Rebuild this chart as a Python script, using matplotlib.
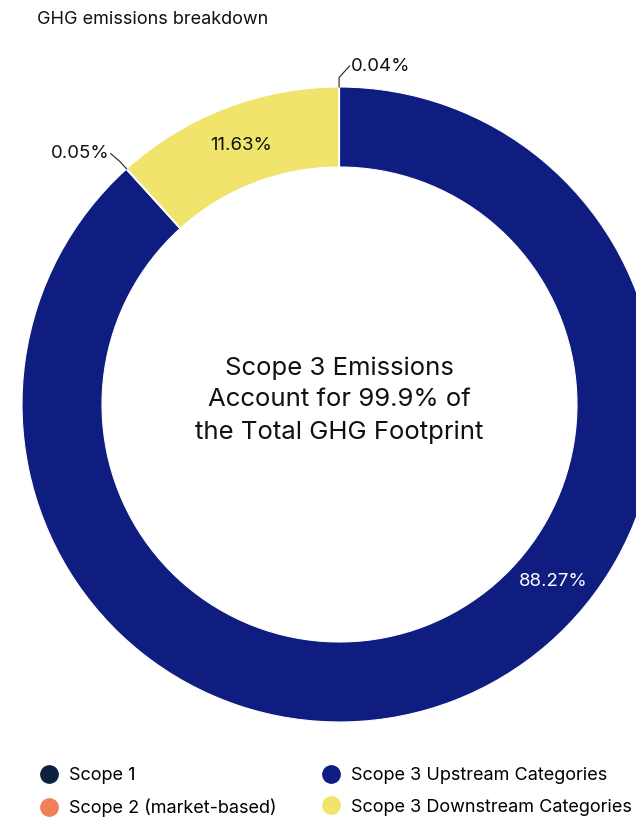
import numpy as np
import matplotlib.pyplot as plt
from matplotlib.lines import Line2D

plt.rcParams['font.family'] = ['Inter', 'DejaVu Sans']

# slices, clockwise from 12 o'clock
labels = ['Scope 3 Upstream Categories', 'Scope 1',
          'Scope 3 Downstream Categories', 'Scope 2 (market-based)']
shares = [88.27, 0.05, 11.63, 0.04]
colors = ['#0f1d80', '#0c2340', '#f0e46c', '#f07f5a']

legend_order = ['Scope 1', 'Scope 2 (market-based)',
                'Scope 3 Upstream Categories', 'Scope 3 Downstream Categories']

W, H = 636, 817
cx, cy, R = 339.5, 412.5, 317.5   # pixel centre (from bottom) and outer radius
ring = 0.252

fig = plt.figure(figsize=(W / 100, H / 100), dpi=100)
ax = fig.add_axes([0, 0, 1, 1])

wedges, _ = ax.pie(shares, colors=colors, startangle=90, counterclock=False,
                   radius=1.0, wedgeprops=dict(width=ring, edgecolor='white', linewidth=0.8))

# pie() resets the limits, so fix the scale afterwards
ax.set_xlim(-cx / R, (W - cx) / R)
ax.set_ylim(-cy / R, (H - cy) / R)
ax.set_aspect('equal')
ax.axis('off')

mid_r = 1 - ring / 2

def mid_angle(w):
    return np.deg2rad((w.theta1 + w.theta2) / 2)

# big slices: labels inside the ring
a_up = np.deg2rad(-39.6)
ax.text(mid_r * np.cos(a_up), mid_r * np.sin(a_up), f'{shares[0]:.2f}%',
        color='white', fontsize=13.4, ha='center', va='center')
a_dn = mid_angle(wedges[2])
ax.text(mid_r * np.cos(a_dn) + 0.006, mid_r * np.sin(a_dn), f'{shares[2]:.2f}%',
        color='#111111', fontsize=13.4, ha='center', va='center')

# tiny slices: leader lines out to the labels
def leader(w, pct, dx, dy, ha):
    a = mid_angle(w)
    x0, y0 = np.cos(a), np.sin(a)
    x1, y1 = 1.03 * x0, 1.03 * y0
    x2, y2 = x1 + dx, y1 + dy
    ax.plot([x0, x1, x2], [y0, y1, y2], color='#222222', lw=0.8)
    ax.text(x2 + (0.005 if ha == 'left' else -0.005), y2, f'{pct:.2f}%',
            fontsize=13.4, ha=ha, va='center', color='#111111')

leader(wedges[3], shares[3], 0.033, 0.036, 'left')
leader(wedges[1], shares[1], -0.03, 0.026, 'right')

ax.text(0, 0.014, 'Scope 3 Emissions\nAccount for 99.9% of\nthe Total GHG Footprint',
        ha='center', va='center', fontsize=18.5, linespacing=1.47, color='#111111')

fig.text(37 / W, 1 - 20 / H, 'GHG emissions breakdown', fontsize=13,
         ha='left', va='center', color='#111111')

handles = [Line2D([], [], marker='o', linestyle='none', markersize=13.5,
                  markerfacecolor=colors[labels.index(n)], markeredgecolor='none')
           for n in legend_order]
fig.legend(handles, legend_order, ncol=2, loc='upper left',
           bbox_to_anchor=(38 / W, 1 - 767 / H), frameon=False, fontsize=13,
           handletextpad=0.5, columnspacing=2.45, labelspacing=0.82,
           handlelength=1.2, borderpad=0, borderaxespad=0)

fig.savefig('out.png', dpi=100)
